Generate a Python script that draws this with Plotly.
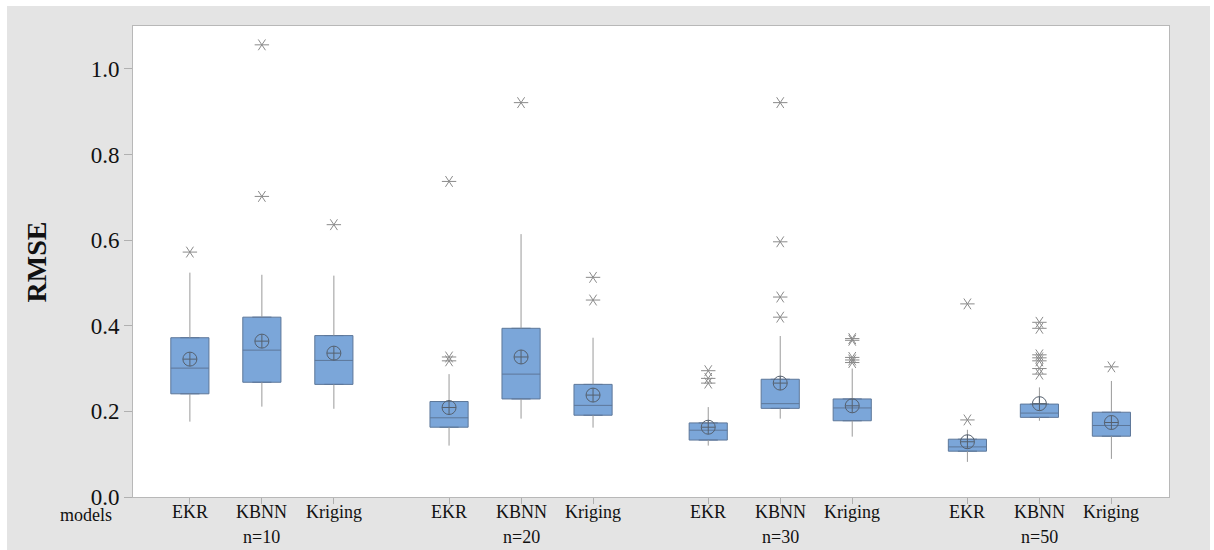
import plotly.graph_objects as go

# ---- data -------------------------------------------------------------
models = ["EKR", "KBNN", "Kriging"] * 4
groups = ["n=10", "n=20", "n=30", "n=50"]
xpos = [0, 1, 2, 3.6, 4.6, 5.6, 7.2, 8.2, 9.2, 10.8, 11.8, 12.8]
group_centers = [1, 4.6, 8.2, 11.8]

q1 = [0.241, 0.268, 0.263, 0.163, 0.229, 0.191, 0.133, 0.207, 0.178, 0.107, 0.186, 0.142]
median = [0.301, 0.343, 0.319, 0.185, 0.287, 0.214, 0.156, 0.218, 0.208, 0.117, 0.196, 0.167]
q3 = [0.372, 0.420, 0.377, 0.223, 0.394, 0.263, 0.173, 0.275, 0.229, 0.135, 0.217, 0.198]
whisker_low = [0.176, 0.211, 0.206, 0.120, 0.183, 0.162, 0.120, 0.183, 0.141, 0.082, 0.178, 0.089]
whisker_high = [0.524, 0.519, 0.517, 0.287, 0.614, 0.372, 0.210, 0.376, 0.300, 0.157, 0.256, 0.271]
mean = [0.322, 0.364, 0.336, 0.209, 0.327, 0.238, 0.163, 0.266, 0.213, 0.129, 0.218, 0.174]
outliers = [
    [0.572],
    [1.056, 0.702],
    [0.636],
    [0.737, 0.327, 0.318],
    [0.921],
    [0.513, 0.460],
    [0.295, 0.277, 0.266],
    [0.921, 0.596, 0.467, 0.420],
    [0.370, 0.366, 0.326, 0.320, 0.314],
    [0.451, 0.180],
    [0.408, 0.394, 0.332, 0.325, 0.318, 0.300, 0.287],
    [0.304],
]

FONT = "Liberation Serif"
TEXT = "#111111"
BOX_FILL = "#7ba6d9"
BOX_LINE = "#5d7799"
GRAY = "#9a9a9a"

fig = go.Figure()

# whiskers (no caps), drawn under the boxes
wx, wy = [], []
for x, lo, a, b, hi in zip(xpos, whisker_low, q1, q3, whisker_high):
    wx += [x, x, None, x, x, None]
    wy += [lo, a, None, b, hi, None]
fig.add_trace(go.Scatter(x=wx, y=wy, mode="lines",
                         line=dict(color=GRAY, width=1), hoverinfo="skip"))

# boxes from precomputed quartiles
fig.add_trace(go.Box(
    x=xpos, q1=q1, median=median, q3=q3,
    lowerfence=q1, upperfence=q3,
    width=0.53, fillcolor=BOX_FILL,
    line=dict(color=BOX_LINE, width=1),
    boxpoints=False,
))

# mean symbols
fig.add_trace(go.Scatter(
    x=xpos, y=mean, mode="markers",
    marker=dict(symbol="circle-cross-open", size=14,
                color="#55606e", line=dict(width=1)),
))

# outliers as six-armed asterisks
ox, oy = [], []
for x, vals in zip(xpos, outliers):
    for v in vals:
        ox.append(x)
        oy.append(v)
for ang in (90, -90):
    fig.add_trace(go.Scatter(
        x=ox, y=oy, mode="markers",
        marker=dict(symbol="y-up-open", size=9, angle=ang,
                    color="#8a8a8a", line=dict(width=1, color="#8a8a8a")),
    ))

# category labels, sample-size labels and axis captions
annotations = []
for x, m in zip(xpos, models):
    annotations.append(dict(x=x, y=-0.0318, xref="x", yref="paper",
                            text=m, showarrow=False, yanchor="middle",
                            font=dict(family=FONT, size=18, color=TEXT)))
for xc, g in zip(group_centers, groups):
    annotations.append(dict(x=xc, y=-0.0849, xref="x", yref="paper",
                            text=g, showarrow=False, yanchor="middle",
                            font=dict(family=FONT, size=18, color=TEXT)))
annotations.append(dict(x=-0.0449, y=-0.038, xref="paper", yref="paper",
                        text="models", showarrow=False, yanchor="middle",
                        xanchor="center", height=16,
                        font=dict(family=FONT, size=18, color=TEXT)))
annotations.append(dict(x=-0.0927, y=0.5, xref="paper", yref="paper",
                        text="<b>RMSE</b>", showarrow=False, textangle=-90,
                        xanchor="center", yanchor="middle",
                        font=dict(family=FONT, size=28, color=TEXT)))

shapes = [
    # grey frame around the chart
    dict(type="rect", xref="paper", yref="paper",
         x0=-0.1216, x1=1.0396, y0=-0.2, y1=1.0425,
         fillcolor="#e4e4e4", line=dict(width=0), layer="below"),
    # white data region
    dict(type="rect", xref="paper", yref="paper",
         x0=0, x1=1, y0=0, y1=1,
         fillcolor="white", line=dict(width=0), layer="below"),
]

fig.update_layout(
    width=1214, height=550,
    margin=dict(l=133, r=45, t=26, b=53),
    paper_bgcolor="white", plot_bgcolor="white",
    showlegend=False,
    shapes=shapes,
    annotations=annotations,
    xaxis=dict(
        range=[-0.79, 13.6], tickvals=xpos, showticklabels=False,
        ticks="outside", ticklen=6, tickcolor="#b0b0b0",
        showline=True, linecolor="#b8b8b8", linewidth=1, mirror=True,
        showgrid=False, zeroline=False,
    ),
    yaxis=dict(
        range=[0, 1.10], tickvals=[0, 0.2, 0.4, 0.6, 0.8, 1.0],
        tickformat=".1f",
        ticks="outside", ticklen=8, tickcolor="#b0b0b0",
        showline=True, linecolor="#b8b8b8", linewidth=1, mirror=True,
        showgrid=False, zeroline=False,
        tickfont=dict(family=FONT, size=23, color=TEXT),
    ),
)

fig.write_html("out.html")
